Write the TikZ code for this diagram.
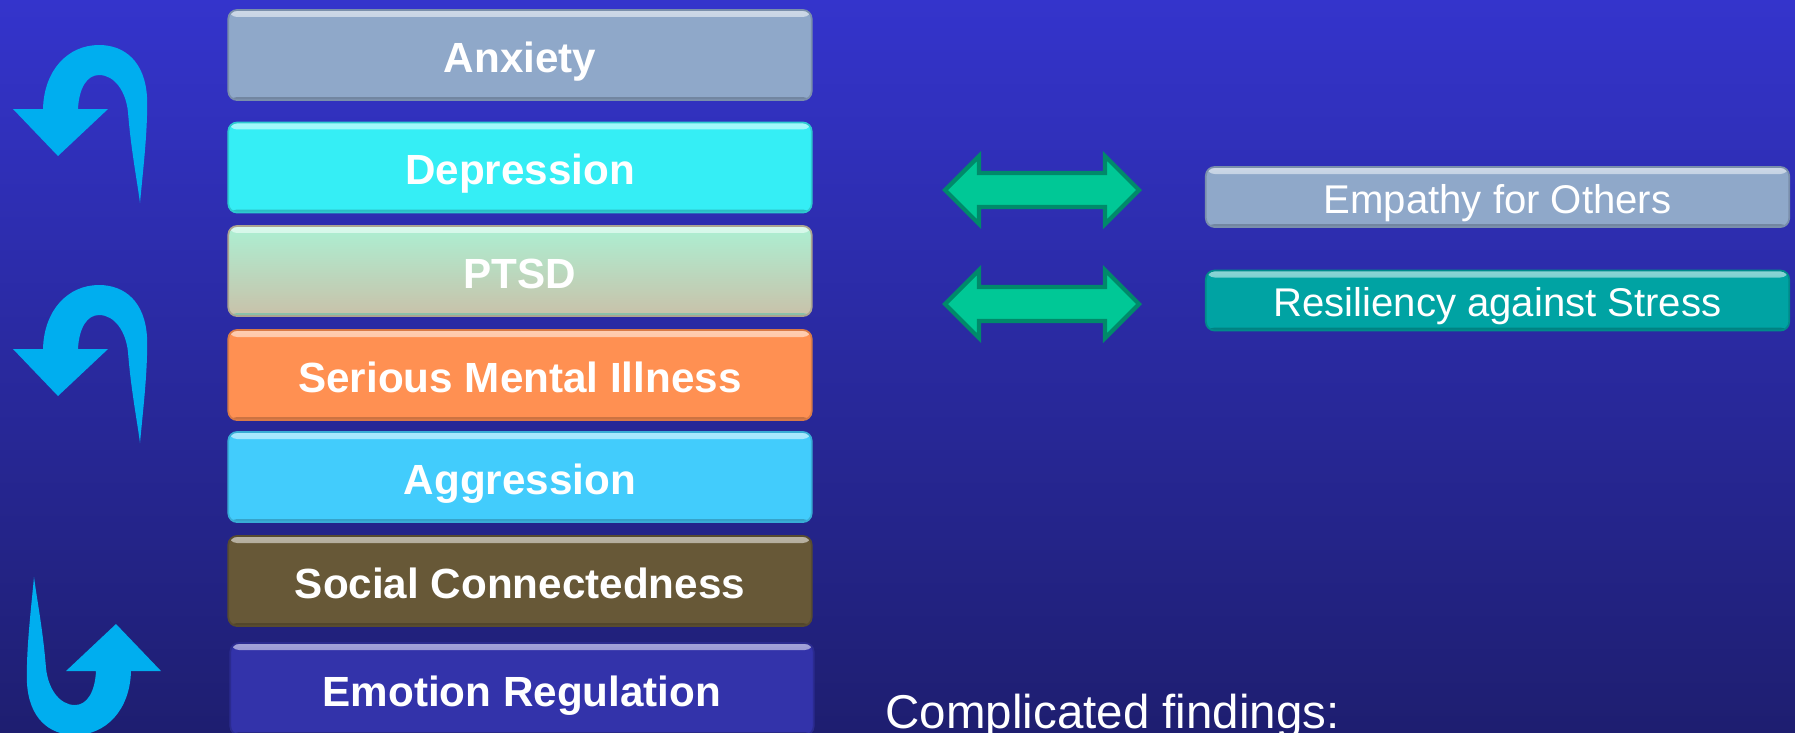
\documentclass[tikz,border=0pt]{standalone}
\usepackage{fontspec}
\setmainfont{Liberation Sans}
\definecolor{bgtop}{HTML}{3434CC}
\definecolor{bgbottom}{HTML}{1E1E70}
\definecolor{arrowblue}{HTML}{00AEEF}
\definecolor{greenfill}{HTML}{00C896}
\definecolor{greenline}{HTML}{008A6A}
\definecolor{anxcol}{HTML}{8FA8C9}
\definecolor{depcol}{HTML}{35EEF5}
\definecolor{ptsdtop}{HTML}{ACF0D3}
\definecolor{ptsdbot}{HTML}{C9C1A9}
\definecolor{smicol}{HTML}{FF9052}
\definecolor{aggcol}{HTML}{42CCFC}
\definecolor{soccol}{HTML}{675837}
\definecolor{emocol}{HTML}{3333AA}
\definecolor{rescol}{HTML}{00A3A3}

\begin{document}
\begin{tikzpicture}[x=0.01cm, y=-0.01cm,
    box/.style={rectangle, rounded corners=2.5pt, minimum width=5.83cm, minimum height=0.9cm,
        inner sep=0pt, text height=9.9pt, text depth=0pt, text=white,
        fill=#1, draw=#1!85!black, line width=0.5pt,
        path picture={
            \shade[top color=#1!45!white, bottom color=#1]
                (path picture bounding box.north west) rectangle ([yshift=-0.07cm]path picture bounding box.north east);
            \fill[#1!80!black]
                (path picture bounding box.south west) rectangle ([yshift=0.03cm]path picture bounding box.south east);
        },
        font=\bfseries\fontsize{12}{14}\selectfont},
    sidebox/.style={box=#1, minimum height=0.6cm, text height=9.2pt, font=\fontsize{11.4}{13}\selectfont},
    uturn/.pic={
        \fill[arrowblue] (140,203) .. controls (143,170) and (148,130) .. (147,97)
            .. controls (145,62) and (125,45) .. (99,45)
            .. controls (68,45) and (44,70) .. (43,109)
            -- (13,109) -- (58,156) -- (108,109) -- (78,109)
            .. controls (79,88) and (87,75) .. (99,75)
            .. controls (115,75) and (126,92) .. (128,112)
            .. controls (131,150) and (137,180) .. (140,203) -- cycle;
    },
    twoway/.pic={
        \filldraw[fill=greenfill, draw=greenline, line width=1.2pt]
            (-97,0) -- (-63,-34) -- (-63,-17) -- (63,-17) -- (63,-34) -- (97,0)
            -- (63,34) -- (63,17) -- (-63,17) -- (-63,34) -- cycle;
    }]

    % Background:
    \useasboundingbox (0,0) rectangle (1795,732);
    \shade[top color=bgtop, bottom color=bgbottom] (0,0) rectangle (1795,732);

    % Turn arrows:
    \pic (turnA) at (0,0) {uturn};
    \pic (turnB) at (0,240) {uturn};
    \pic[rotate=180] (turnC) at (174,780) {uturn};

    % Left column:
    \node[box=anxcol] (anx) at (520,55) {Anxiety};
    \node[box=depcol] (dep) at (520,167.5) {Depression};
    \node[box=ptsdtop, top color=ptsdtop, bottom color=ptsdbot, draw=ptsdbot!85!black] (ptsd) at (520,271) {PTSD};
    \node[box=smicol] (smi) at (520,375) {Serious Mental Illness};
    \node[box=aggcol] (agg) at (520,477) {Aggression};
    \node[box=soccol] (soc) at (520,581) {Social Connectedness};
    \node[box=emocol, minimum height=0.92cm] (emo) at (522,689) {Emotion Regulation};

    % Two-way arrows:
    \pic (linkA) at (1042,190) {twoway};
    \pic (linkB) at (1042,304) {twoway};

    % Right column:
    \node[sidebox=anxcol] (emp) at (1497.5,197) {Empathy for Others};
    \node[sidebox=rescol] (res) at (1497.5,300.5) {Resiliency against Stress};

    \node[anchor=base west, text=white, inner sep=0pt, font=\fontsize{13.5}{16}\selectfont]
        (findings) at (885,728) {Complicated findings:};
\end{tikzpicture}
\end{document}
